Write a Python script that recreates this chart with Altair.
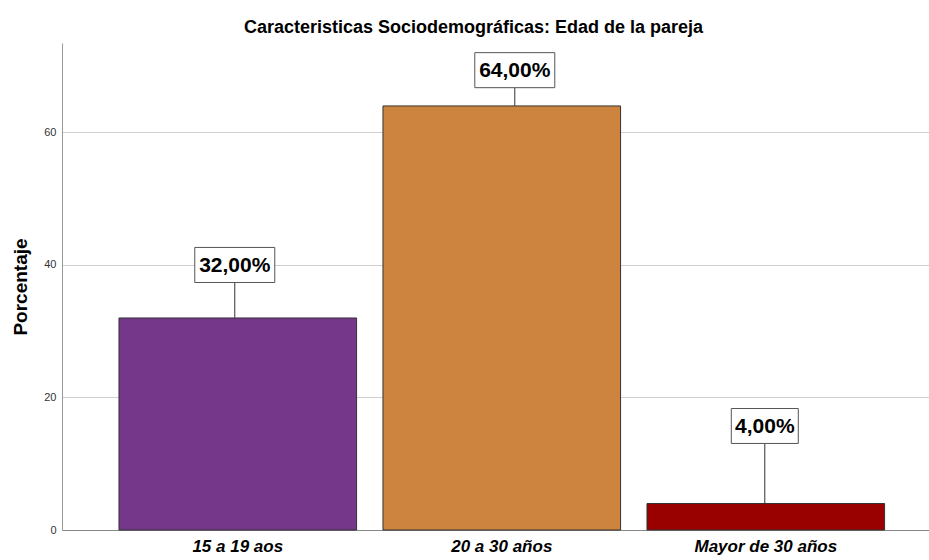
import altair as alt
import pandas as pd

categories = ["15 a 19 aos", "20 a 30 años", "Mayor de 30 años"]
values = [32.0, 64.0, 4.0]
labels = ["32,00%", "64,00%", "4,00%"]
label_y = [40.0, 69.4, 15.7]
label_dx = [-3, 13, -1]
colors = ["#75378A", "#CC843F", "#990000"]

df = pd.DataFrame({
    "cat": categories,
    "value": values,
    "label": labels,
    "ly": label_y,
    "dx": label_dx,
})

W = 867
x_scale = alt.Scale(domain=categories, paddingInner=0.1, paddingOuter=0.192, align=0.562)
y_scale = alt.Scale(domain=[0, 73.5], nice=False, zero=True)

# band geometry (to centre annotations on each bar when using xOffset)
step = W / (3 - 0.1 + 2 * 0.192)
half_band = step * 0.9 / 2
df["dxc"] = df["dx"] + half_band

def box_path(lbl):
    hw = 40 if len(lbl) > 5 else 33.5
    hh = 17.5 / hw
    return f"M-1,-{hh:.3f}L1,-{hh:.3f}L1,{hh:.3f}L-1,{hh:.3f}Z"
df["shape"] = [box_path(l) for l in labels]
df["size"] = [(80 if len(l) > 5 else 67) ** 2 for l in labels]

x_enc = alt.X("cat:N", scale=x_scale, sort=categories,
              axis=alt.Axis(title=None, labelAngle=0, labelFont="Liberation Sans",
                            labelFontSize=17, labelFontWeight="bold", labelFontStyle="italic",
                            labelColor="#000000", ticks=False, domainColor="#888888",
                            labelPadding=8))

bars = alt.Chart(df).mark_bar(stroke="#333333", strokeWidth=1).encode(
    x=x_enc,
    y=alt.Y("value:Q", scale=y_scale,
            axis=alt.Axis(title="Porcentaje", values=[0, 20, 40, 60], ticks=False,
                          grid=True, gridColor="#CFCFCF", domainColor="#999999",
                          labelFont="Liberation Sans", labelFontSize=11, labelColor="#333333",
                          labelPadding=6,
                          titleFont="Liberation Sans", titleFontSize=19, titleFontWeight="bold",
                          titleColor="#000000", titlePadding=13)),
    color=alt.Color("cat:N", scale=alt.Scale(domain=categories, range=colors), legend=None),
)

rules = alt.Chart(df).mark_rule(color="#333333", strokeWidth=1).encode(
    x=alt.X("cat:N", scale=x_scale, sort=categories),
    xOffset=alt.XOffset("dxc:Q", scale=None),
    y=alt.Y("value:Q", scale=y_scale),
    y2="ly:Q",
)

boxes = alt.Chart(df).mark_point(filled=True, fill="white", stroke="#555555",
                                 strokeWidth=1, opacity=1, fillOpacity=1).encode(
    x=alt.X("cat:N", scale=x_scale, sort=categories),
    xOffset=alt.XOffset("dxc:Q", scale=None),
    y=alt.Y("ly:Q", scale=y_scale),
    shape=alt.Shape("shape:N", scale=None),
    size=alt.Size("size:Q", scale=None),
)

texts = alt.Chart(df).mark_text(font="Liberation Sans", fontSize=21, fontWeight="bold",
                                color="#000000", baseline="middle", align="center", dy=1).encode(
    x=alt.X("cat:N", scale=x_scale, sort=categories),
    xOffset=alt.XOffset("dxc:Q", scale=None),
    y=alt.Y("ly:Q", scale=y_scale),
    text="label:N",
)

chart = alt.layer(bars, rules, boxes, texts).properties(
    width=W, height=487,
    title=alt.TitleParams("Caracteristicas Sociodemográficas: Edad de la pareja",
                          font="Liberation Sans", fontSize=18, fontWeight="bold",
                          color="#000000", anchor="middle", dx=-22, offset=6),
    autosize=alt.AutoSizeParams(type="none"),
    padding={"left": 62, "top": 43, "right": 0, "bottom": 30},
).configure_view(stroke=None).configure_axis(labelOverlap=False)

chart.save("out.html", embed_options={"renderer": "svg", "actions": False})
